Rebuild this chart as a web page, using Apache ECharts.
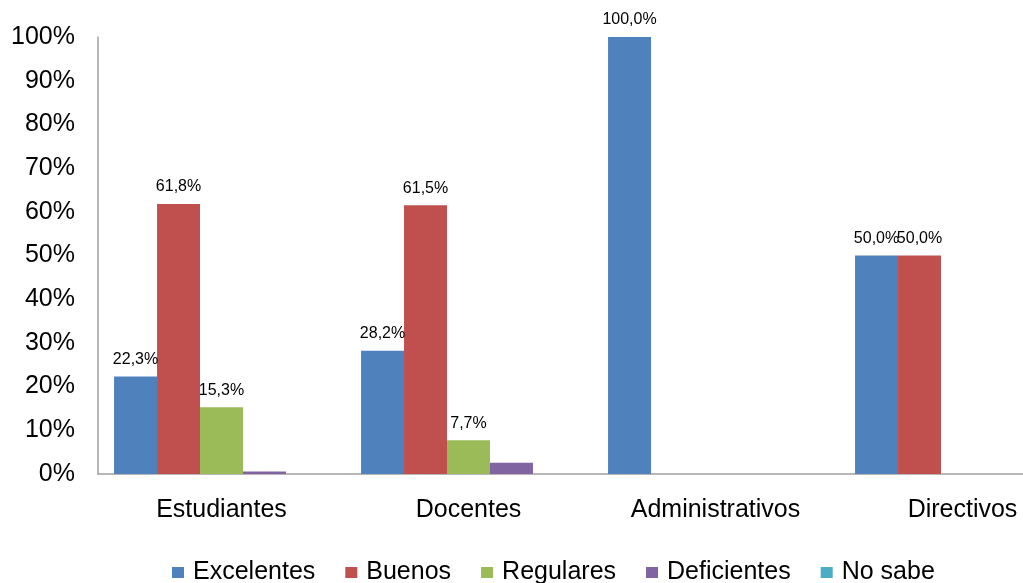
<!DOCTYPE html>
<html><head><meta charset="utf-8">
<script src="https://cdn.jsdelivr.net/npm/echarts@6/dist/echarts.min.js"></script>
<style>html,body{margin:0;padding:0;background:#fff}#c{width:1023px;height:583px}</style>
</head><body><div id="c"></div>
<script>
const categories = ['Estudiantes', 'Docentes', 'Administrativos', 'Directivos'];
const excelentes = [22.3, 28.2, 100.0, 50.0];
const buenos = [61.8, 61.5, 0, 50.0];
const regulares = [15.3, 7.7, 0, 0];
const deficientes = [0.6, 2.6, 0, 0];
const noSabe = [0, 0, 0, 0];
const seriesNames = ['Excelentes', 'Buenos', 'Regulares', 'Deficientes', 'No sabe'];
const colors = ['#4F81BD', '#C0504D', '#9BBB59', '#8064A2', '#4BACC6'];
const showLabels = [true, true, true, false, false];
const yTicks = [0, 10, 20, 30, 40, 50, 60, 70, 80, 90, 100];

const font = 'Liberation Sans, Arial, sans-serif';
const data = [excelentes, buenos, regulares, deficientes, noSabe];
const chart = echarts.init(document.getElementById('c'));
chart.setOption({
  animation: false,
  backgroundColor: '#fff',
  grid: {left: 98, width: 988, top: 37, bottom: 109, containLabel: false, outerBoundsMode: 'none'},
  legend: {
    data: seriesNames, left: 172, top: 560, itemWidth: 12, itemHeight: 11, itemGap: 30,
    icon: 'rect', padding: 0,
    textStyle: {fontFamily: font, fontSize: 25, color: '#000', padding: [0, 0, 0, 4]}
  },
  xAxis: {
    type: 'category', data: categories,
    axisLine: {lineStyle: {color: '#a0a0a0', width: 1.5}},
    axisTick: {show: false},
    axisLabel: {fontFamily: font, fontSize: 25, color: '#000', margin: 24, interval: 0}
  },
  yAxis: {
    type: 'value', min: yTicks[0], max: yTicks[yTicks.length - 1], interval: 10,
    splitLine: {show: false},
    axisLine: {show: true, lineStyle: {color: '#a0a0a0', width: 1.5}},
    axisTick: {show: false},
    axisLabel: {fontFamily: font, fontSize: 25, color: '#000', margin: 23, formatter: '{value}%'}
  },
  series: seriesNames.map((n, i) => ({
    name: n, type: 'bar', data: data[i],
    barGap: '0%', barCategoryGap: '13%',
    itemStyle: {color: colors[i]},
    label: {
      show: showLabels[i], position: 'top', distance: 9,
      fontFamily: font, fontSize: 16, color: '#000',
      formatter: p => p.value > 0 ? p.value.toFixed(1).replace('.', ',') + '%' : ''
    }
  }))
});
</script></body></html>
